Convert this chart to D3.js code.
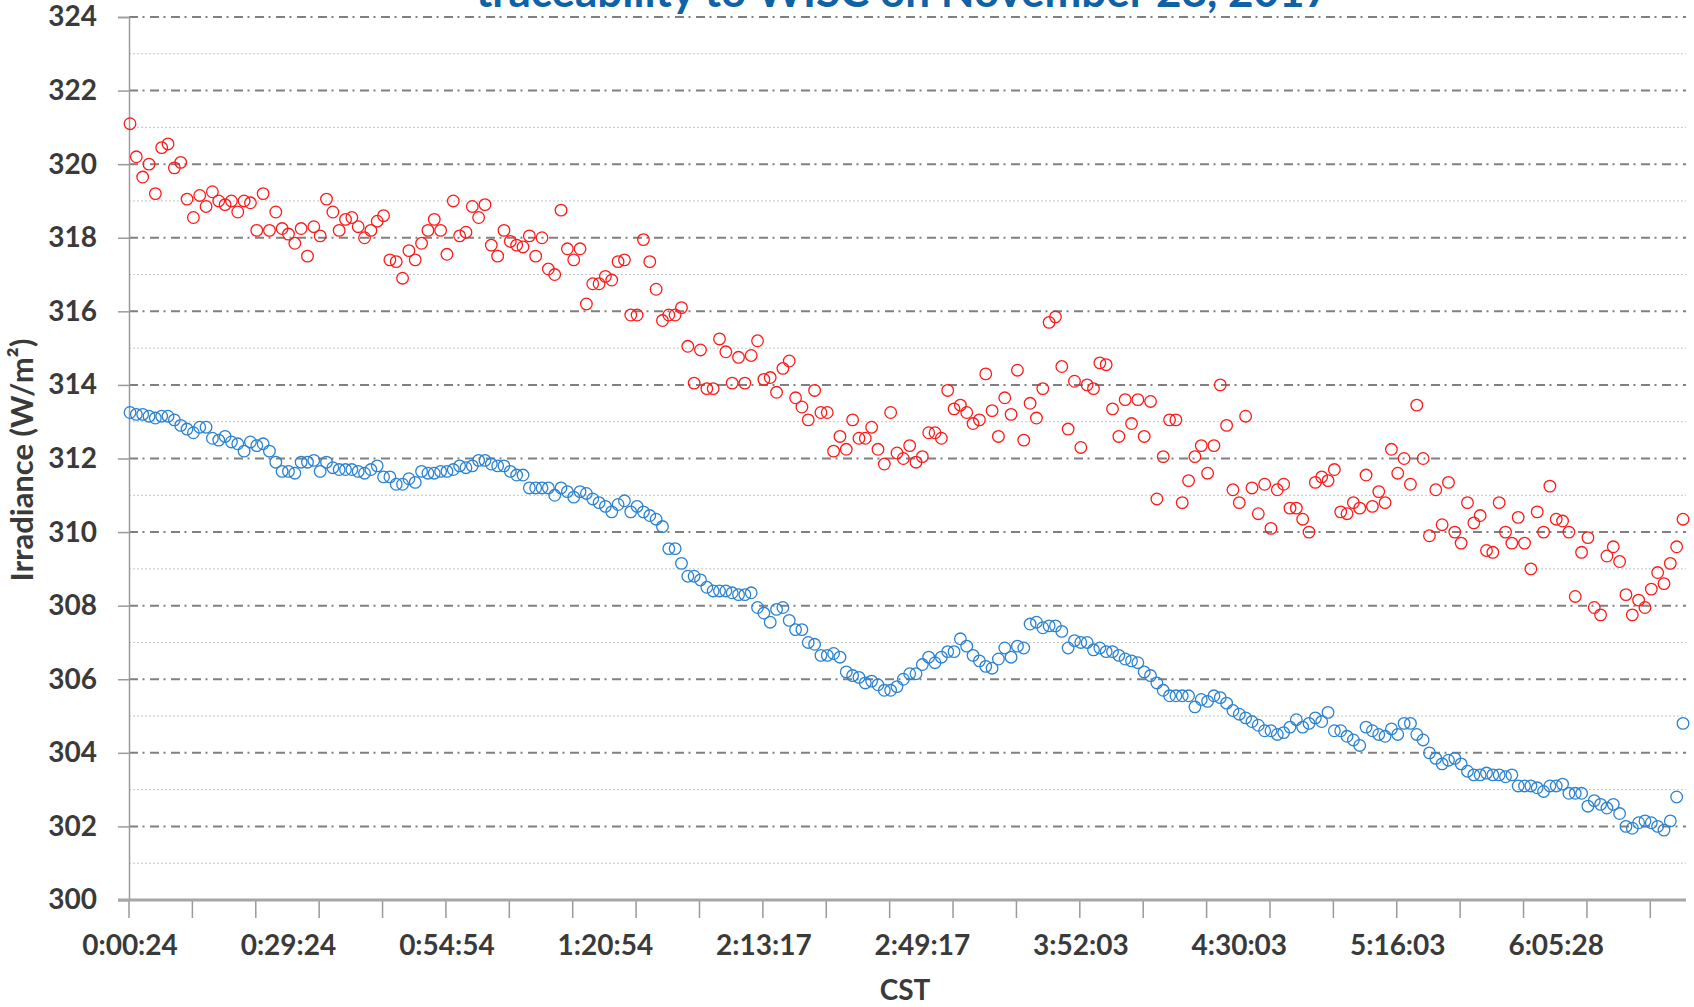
<!DOCTYPE html>
<html lang="en">
<head>
<meta charset="UTF-8">
<title>Irradiance traceability</title>
<script src="https://d3js.org/d3.v7.min.js"></script>
<style>
  body { margin: 0; background: #fff; }
  svg text { font-family: Lato, "Open Sans", sans-serif; font-weight: bold; }
  .tick-label { fill: #3a3a3a; }
  .major { stroke: #808080; stroke-width: 2px; stroke-dasharray: 9,4.5,2,5.5; }
  .minor { stroke: #c4c4c4; stroke-width: 1px; stroke-dasharray: 2,2; }
</style>
</head>
<body>
<script>
// red series (upper)
const redValues = [
  321.1,320.2,319.65,320.0,319.2,320.45,320.55,319.9,320.05,319.05,
  318.55,319.15,318.85,319.25,319.0,318.9,319.0,318.7,319.0,318.95,
  318.2,319.2,318.2,318.7,318.25,318.1,317.85,318.25,317.5,318.3,
  318.05,319.05,318.7,318.2,318.5,318.55,318.3,318.0,318.2,318.45,
  318.6,317.4,317.35,316.9,317.65,317.4,317.85,318.2,318.5,318.2,
  317.55,319.0,318.05,318.15,318.85,318.55,318.9,317.8,317.5,318.2,
  317.9,317.8,317.75,318.05,317.5,318.0,317.15,317.0,318.75,317.7,
  317.4,317.7,316.2,316.75,316.75,316.95,316.85,317.35,317.4,315.9,
  315.9,317.95,317.35,316.6,315.75,315.9,315.9,316.1,315.05,314.05,
  314.95,313.9,313.9,315.25,314.9,314.05,314.75,314.05,314.8,315.2,
  314.15,314.2,313.8,314.45,314.65,313.65,313.4,313.05,313.85,313.25,
  313.25,312.2,312.6,312.25,313.05,312.55,312.55,312.85,312.25,311.85,
  313.25,312.15,312.0,312.35,311.9,312.05,312.7,312.7,312.55,313.85,
  313.35,313.45,313.25,312.95,313.05,314.3,313.3,312.6,313.65,313.2,
  314.4,312.5,313.5,313.1,313.9,315.7,315.85,314.5,312.8,314.1,
  312.3,314.0,313.9,314.6,314.55,313.35,312.6,313.6,312.95,313.6,
  312.6,313.55,310.9,312.05,313.05,313.05,310.8,311.4,312.05,312.35,
  311.6,312.35,314.0,312.9,311.15,310.8,313.15,311.2,310.5,311.3,
  310.1,311.15,311.3,310.65,310.65,310.35,310.0,311.35,311.5,311.4,
  311.7,310.55,310.5,310.8,310.65,311.55,310.7,311.1,310.8,312.25,
  311.6,312.0,311.3,313.45,312.0,309.9,311.15,310.2,311.35,310.0,
  309.7,310.8,310.25,310.45,309.5,309.45,310.8,310.0,309.7,310.4,
  309.7,309.0,310.55,310.0,311.25,310.35,310.3,310.0,308.25,309.45,
  309.85,307.95,307.75,309.35,309.6,309.2,308.3,307.75,308.15,307.95,
  308.45,308.9,308.6,309.15,309.6,310.35
];

// blue series (lower)
const blueValues = [
  313.25,313.2,313.2,313.15,313.1,313.15,313.15,313.05,312.9,312.8,
  312.7,312.85,312.85,312.55,312.5,312.6,312.45,312.4,312.2,312.45,
  312.35,312.4,312.2,311.9,311.65,311.65,311.6,311.9,311.9,311.95,
  311.65,311.9,311.75,311.7,311.7,311.7,311.65,311.6,311.7,311.8,
  311.5,311.5,311.3,311.3,311.45,311.35,311.65,311.6,311.6,311.65,
  311.65,311.7,311.8,311.75,311.8,311.95,311.95,311.85,311.8,311.8,
  311.65,311.55,311.55,311.2,311.2,311.2,311.2,311.0,311.2,311.1,
  310.95,311.1,311.05,310.9,310.8,310.7,310.55,310.75,310.85,310.55,
  310.7,310.55,310.45,310.35,310.15,309.55,309.55,309.15,308.8,308.8,
  308.7,308.5,308.4,308.4,308.4,308.35,308.3,308.3,308.35,307.95,
  307.8,307.55,307.9,307.95,307.6,307.35,307.35,307.0,306.95,306.65,
  306.65,306.7,306.6,306.2,306.1,306.05,305.9,305.95,305.85,305.7,
  305.7,305.8,306.0,306.15,306.15,306.4,306.6,306.45,306.6,306.75,
  306.75,307.1,306.9,306.65,306.5,306.35,306.3,306.55,306.85,306.6,
  306.9,306.85,307.5,307.55,307.4,307.45,307.45,307.3,306.85,307.05,
  307.0,307.0,306.8,306.85,306.75,306.75,306.65,306.55,306.5,306.45,
  306.2,306.1,305.9,305.7,305.55,305.55,305.55,305.55,305.25,305.45,
  305.4,305.55,305.5,305.35,305.15,305.05,304.95,304.85,304.75,304.6,
  304.6,304.5,304.55,304.7,304.9,304.7,304.8,304.95,304.85,305.1,
  304.6,304.6,304.45,304.35,304.2,304.7,304.6,304.5,304.45,304.65,
  304.5,304.8,304.8,304.5,304.35,304.0,303.85,303.7,303.8,303.85,
  303.7,303.5,303.4,303.4,303.45,303.4,303.4,303.35,303.4,303.1,
  303.1,303.1,303.05,302.95,303.1,303.1,303.15,302.9,302.9,302.9,
  302.55,302.7,302.6,302.5,302.6,302.35,302.0,301.95,302.1,302.15,
  302.1,302.0,301.9,302.15,302.8,304.8
];

// category labels shown on the x axis (every 25th sample)
const xLabelIndex = [0, 25, 50, 75, 100, 125, 150, 175, 200, 225];
const xLabels = ["0:00:24","0:29:24","0:54:54","1:20:54","2:13:17","2:49:17","3:52:03","4:30:03","5:16:03","6:05:28"];
const yTicks = d3.range(300, 325, 2);
const yMinor = d3.range(301, 324, 2);

const width = 1694, height = 1007;
const plotLeft = 129, plotRight = 1686, plotTop = 17, plotBottom = 900;
const n = redValues.length;

const svg = d3.select("body").append("svg")
  .attr("width", width)
  .attr("height", height);

const x = d3.scaleLinear().domain([0, n - 1]).range([130, 1683]);
const y = d3.scaleLinear().domain([300, 324]).range([plotBottom, plotTop]);

// minor gridlines
svg.append("g").selectAll("line")
  .data(yMinor).join("line")
  .attr("class", "minor")
  .attr("x1", plotLeft).attr("x2", plotRight)
  .attr("y1", d => y(d)).attr("y2", d => y(d));

// major gridlines
svg.append("g").selectAll("line")
  .data(yTicks.filter(d => d > 300)).join("line")
  .attr("class", "major")
  .attr("x1", plotLeft).attr("x2", plotRight)
  .attr("y1", d => y(d)).attr("y2", d => y(d));

// y axis
const yAxis = svg.append("g")
  .attr("transform", `translate(${plotLeft},0)`)
  .call(d3.axisLeft(y).tickValues(yTicks).tickSize(11).tickPadding(21).tickFormat(d3.format("d")));
yAxis.select(".domain").attr("stroke", "#9a9a9a").attr("stroke-width", 1.5);
yAxis.selectAll(".tick line").attr("stroke", "#9a9a9a").attr("stroke-width", 1.5);
yAxis.selectAll(".tick text").attr("class", "tick-label").style("font-size", "28px");

// x axis
const xAxis = svg.append("g")
  .attr("transform", `translate(0,${plotBottom})`)
  .call(d3.axisBottom(x).tickValues(d3.range(0, n, 10)).tickSize(18).tickFormat(""));
xAxis.select(".domain").remove();
xAxis.selectAll(".tick line").attr("stroke", "#9a9a9a").attr("stroke-width", 1.5)
  .attr("transform", "translate(-1.5,0)");
svg.append("line")
  .attr("x1", plotLeft - 11).attr("x2", plotRight)
  .attr("y1", plotBottom).attr("y2", plotBottom)
  .attr("stroke", "#a6a6a6").attr("stroke-width", 3);

svg.append("g").selectAll("text")
  .data(xLabelIndex).join("text")
  .attr("class", "tick-label")
  .attr("x", d => x(d))
  .attr("y", 955)
  .attr("text-anchor", "middle")
  .style("font-size", "28px")
  .text((d, i) => xLabels[i]);

// axis titles
svg.append("text")
  .attr("x", 905).attr("y", 1000)
  .attr("text-anchor", "middle")
  .attr("fill", "#3a3a3a")
  .style("font-size", "28px")
  .text("CST");

svg.append("text")
  .attr("transform", "translate(33,460) rotate(-90)")
  .attr("text-anchor", "middle")
  .attr("fill", "#3a3a3a")
  .style("font-size", "31px")
  .text("Irradiance (W/m²)");

// title (cut off at the top)
svg.append("text")
  .attr("x", 903).attr("y", 7)
  .attr("text-anchor", "middle")
  .attr("fill", "#0f62a6")
  .style("font-size", "44px")
  .text("traceability to WISC on November 28, 2017");

// series
svg.append("g").selectAll("circle")
  .data(blueValues).join("circle")
  .attr("cx", (d, i) => x(i)).attr("cy", d => y(d))
  .attr("r", 5.8)
  .attr("fill", "none").attr("stroke", "#2b83d0").attr("stroke-width", 1.3);

svg.append("g").selectAll("circle")
  .data(redValues).join("circle")
  .attr("cx", (d, i) => x(i)).attr("cy", d => y(d))
  .attr("r", 5.8)
  .attr("fill", "none").attr("stroke", "#ff1a1a").attr("stroke-width", 1.3);
</script>
</body>
</html>
